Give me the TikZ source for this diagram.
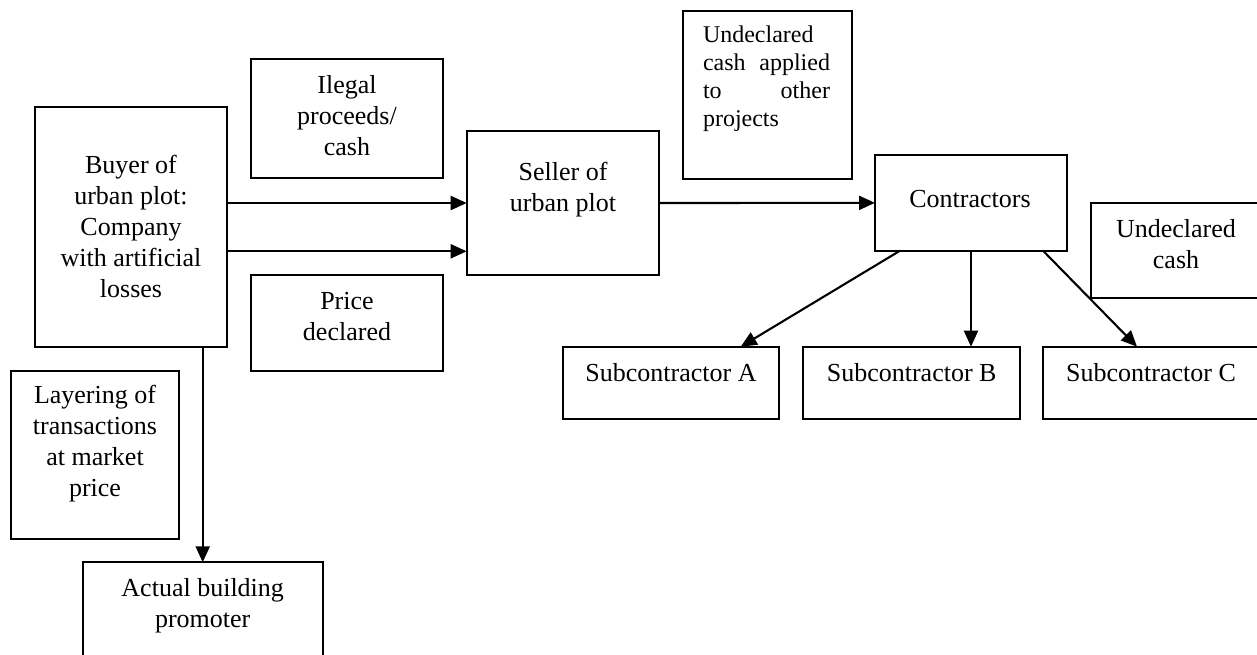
\documentclass[tikz,border=0pt]{standalone}
\usepackage{fontspec}
\setmainfont{Liberation Serif}
\usetikzlibrary{arrows.meta}
\begin{document}
\begin{tikzpicture}[x=1pt,y=-1pt,
  box/.style={draw, line width=2.1pt, rectangle, inner sep=0pt, outer sep=0pt},
  txt/.style={align=center, inner sep=0pt, font=\fontsize{26}{31}\selectfont},
  arr/.style={line width=2.1pt, -{Triangle[length=16pt,width=14pt]}}]
\useasboundingbox (0,0) rectangle (1257,654);
% boxes
\node[box, minimum width=192pt, minimum height=240pt] (buyer) at (131,227) {};
\node[box, minimum width=192pt, minimum height=119pt] (ilegal) at (347,118.5) {};
\node[box, minimum width=192pt, minimum height=96pt] (price) at (347,323) {};
\node[box, minimum width=192.3pt, minimum height=144pt] (seller) at (562.85,203) {};
\node[box, minimum width=169pt, minimum height=168.3pt] (undeclA) at (767.2,94.85) {};
\node[box, minimum width=192pt, minimum height=95.7pt] (contr) at (971,202.85) {};
\node[box, minimum width=192pt, minimum height=95pt] (undeclB) at (1187,250.5) {};
\node[box, minimum width=216.3pt, minimum height=72.3pt] (subA) at (670.85,382.85) {};
\node[box, minimum width=216.7pt, minimum height=72.3pt] (subB) at (911.65,382.85) {};
\node[box, minimum width=217pt, minimum height=72.3pt] (subC) at (1151.5,382.85) {};
\node[box, minimum width=168.3pt, minimum height=168pt] (layer) at (94.85,455) {};
\node[box, minimum width=240pt, minimum height=108pt] (actual) at (202.7,616.3) {};
% texts
\node[txt] (tbuyer) at (131,226.5) {Buyer of\\urban plot:\\Company\\with artificial\\losses};
\node[txt] (tilegal) at (347,116) {Ilegal\\proceeds/\\cash};
\node[txt] (tprice) at (347,317) {Price\\declared};
\node[txt] (tseller) at (563,189.5) {Seller of\\urban plot};
\node[txt] (tcontr) at (970,199) {Contractors};
\node[txt] (tundeclB) at (1176,244) {Undeclared\\cash};
\node[txt] (tsubA) at (671,373) {Subcontractor A};
\node[txt] (tsubB) at (911.65,373) {Subcontractor B};
\node[txt] (tsubC) at (1151,373) {Subcontractor C};
\node[txt] (tlayer) at (95,444) {Layering of\\transactions\\at market\\price};
\node[txt] (tactual) at (202.7,606) {Actual building\\promoter};
\node[inner sep=0pt, font=\fontsize{24}{28}\selectfont] (tundeclA) at (766.5,78.5)
  {\parbox{127pt}{\hyphenpenalty=10000\exhyphenpenalty=10000\tolerance=10000\hbadness=10000 Undeclared cash applied to other projects\par}};
% connectors
\draw[arr] ([yshift=-24.3pt]buyer.east) -- ([yshift=-24.3pt]buyer.east -| seller.west);
\draw[arr] ([yshift=24pt]buyer.east) -- ([yshift=24pt]buyer.east -| seller.west);
\draw[arr] (seller.east) -- (contr.west);
\draw[arr] ([xshift=25pt]contr.south west) -- ([xshift=-38.3pt]subA.north east);
\draw[arr] (contr.south) -- (contr.south |- subB.north);
\draw[arr] ([xshift=-24pt]contr.south east) -- ([xshift=94pt]subC.north west);
\draw[arr] ([xshift=-24.3pt]buyer.south east) -- (actual.north);
\end{tikzpicture}
\end{document}
